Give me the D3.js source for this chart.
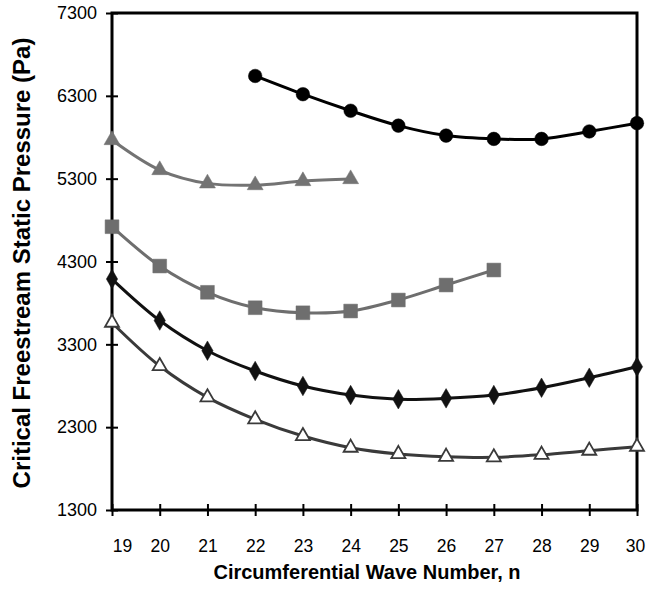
<!DOCTYPE html>
<html><head><meta charset="utf-8">
<script src="https://cdn.jsdelivr.net/npm/d3@7"></script>
<style>body{margin:0;background:#fff}svg{display:block}text{font-family:"Liberation Sans",Arial,sans-serif}</style>
</head><body><svg id="c" width="646" height="592"></svg>
<script>
const waveNumbers = [19,20,21,22,23,24,25,26,27,28,29,30];
const yTicks = [1300,2300,3300,4300,5300,6300,7300];
const circlesX = [22,23,24,25,26,27,28,29,30];
const circlesY = [6540,6320,6120,5940,5820,5780,5780,5870,5970];
const filledTriX = [19,20,21,22,23,24];
const filledTriY = [5766,5404,5243,5222,5271,5295];
const squaresX = [19,20,21,22,23,24,25,26,27];
const squaresY = [4720,4245,3928,3742,3681,3702,3835,4016,4197];
const diamondsX = [19,20,21,22,23,24,25,26,27,28,29,30];
const diamondsY = [4088,3587,3223,2978,2797,2688,2637,2648,2688,2776,2897,3030];
const openTriX = [19,20,21,22,23,24,25,26,27,28,29,30];
const openTriY = [3561,3038,2660,2395,2193,2052,1976,1943,1936,1967,2016,2064];

const series = [
  {xs:circlesX, ys:circlesY, color:"#000", fill:"#000", stroke:"#000", sym:d3.symbolCircle, size:145, width:3},
  {xs:filledTriX, ys:filledTriY, color:"#737373", fill:"#737373", stroke:"#737373", sym:d3.symbolTriangle, size:110, width:3},
  {xs:squaresX, ys:squaresY, color:"#6e6e6e", fill:"#6e6e6e", stroke:"#6e6e6e", sym:d3.symbolSquare, size:190, width:3},
  {xs:diamondsX, ys:diamondsY, color:"#111", fill:"#111", stroke:"#111", sym:d3.symbolDiamond, size:110, width:3},
  {xs:openTriX, ys:openTriY, color:"#3a3a3a", fill:"#fff", stroke:"#3a3a3a", sym:d3.symbolTriangle, size:85, width:3}
];

const svg = d3.select("#c");
const L=112, R=637, T=13, B=510;
const x = d3.scaleLinear().domain([19,30]).range([L,R]);
const y = d3.scaleLinear().domain([1300,7300]).range([B,T]);

// frame
svg.append("rect").attr("x",L).attr("y",T).attr("width",R-L).attr("height",B-T)
  .attr("fill","none").attr("stroke","#000").attr("stroke-width",3);

// y axis
const ya = svg.append("g").attr("transform",`translate(${L},0)`)
  .call(d3.axisLeft(y).tickValues(yTicks).tickSize(6).tickPadding(9).tickFormat(d3.format("d")));
ya.select(".domain").remove();
ya.selectAll(".tick line").attr("x1",6).attr("x2",-6).attr("stroke","#000").attr("stroke-width",2);
ya.selectAll(".tick text").attr("font-size","18px").attr("fill","#000");

// x axis
const xa = svg.append("g").attr("transform",`translate(0,${B})`)
  .call(d3.axisBottom(x).tickValues(waveNumbers).tickSize(6).tickFormat(d3.format("d")));
xa.select(".domain").remove();
xa.selectAll(".tick line").attr("y1",-6).attr("y2",6).attr("stroke","#000").attr("stroke-width",2);
xa.selectAll(".tick text").attr("font-size","17.5px").attr("fill","#000").attr("y",42).attr("dy",0)
  .attr("dx",d=>d===19?10:(d===30?-2:0));

// lines & markers
const line = d3.line().curve(d3.curveCatmullRom.alpha(0.5));
series.forEach(s=>{
  const pts = s.xs.map((v,i)=>[x(v), y(s.ys[i])]);
  svg.append("path").attr("d",line(pts)).attr("fill","none").attr("stroke",s.color).attr("stroke-width",s.width);
  svg.append("g").selectAll("path").data(pts).join("path")
    .attr("transform",d=>`translate(${d[0]},${d[1]})`)
    .attr("d",d3.symbol().type(s.sym).size(s.size))
    .attr("fill",s.fill).attr("stroke",s.stroke).attr("stroke-width",s.fill==="#fff"?1.8:0.5);
});

// titles
svg.append("text").attr("x",367).attr("y",579).attr("text-anchor","middle")
  .attr("font-size","20px").attr("font-weight","bold").text("Circumferential Wave Number, n");
svg.append("text").attr("transform","translate(30,263) rotate(-90)").attr("text-anchor","middle")
  .attr("font-size","24px").attr("font-weight","bold").text("Critical Freestream Static Pressure (Pa)");
</script></body></html>
